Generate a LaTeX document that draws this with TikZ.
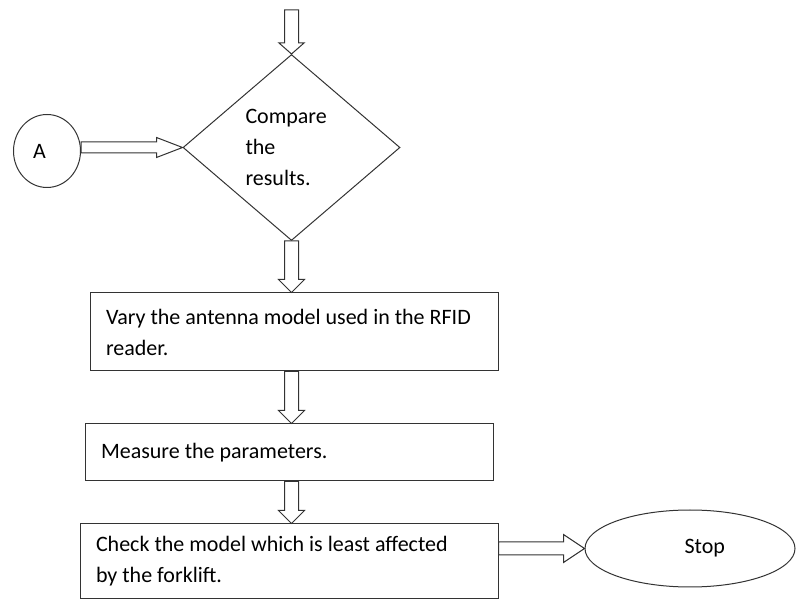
\documentclass[tikz,border=0pt]{standalone}
\usepackage{fontspec}
\setmainfont{Carlito}
\usetikzlibrary{calc, shapes.geometric}
\tikzset{arrsw/.store in=\arrsw, arrhw/.store in=\arrhw, arrhl/.store in=\arrhl, arrsw=7pt, arrhw=13pt, arrhl=13pt}
\tikzset{blockarr/.style={draw=black!80, line width=1pt, fill=white, to path={
	let \p1=(\tikztostart), \p2=(\tikztotarget), \n1={atan2(\y2-\y1,\x2-\x1)} in
	($(\p1)+(\n1+90:\arrsw)$)
	-- ($(\p2)+(\n1+180:\arrhl)+(\n1+90:\arrsw)$)
	-- ($(\p2)+(\n1+180:\arrhl)+(\n1+90:\arrhw)$)
	-- (\p2)
	-- ($(\p2)+(\n1+180:\arrhl)+(\n1-90:\arrhw)$)
	-- ($(\p2)+(\n1+180:\arrhl)+(\n1-90:\arrsw)$)
	-- ($(\p1)+(\n1-90:\arrsw)$) -- cycle \tikztonodes}}}
\tikzset{flowtext/.style={font=\fontsize{22pt}{31pt}\selectfont}}
\tikzset{stepbox/.style={flowtext, rectangle, draw=black!80, line width=1pt, inner xsep=16pt, align=flush left}}
\tikzset{decision/.style={flowtext, diamond, draw=black!80, line width=1pt, inner sep=0pt, minimum width=217pt, minimum height=186pt, text width=92pt, align=flush left}}
\tikzset{endcap/.style={flowtext, ellipse, draw=black!80, line width=1pt}}

\begin{document}
\begin{tikzpicture}[x=1pt, y=-1pt]
	\useasboundingbox (0,0) rectangle (796,601);
	\node[decision] (d) at (291.5,147.5) {Compare\\the\\results.};
	\node[endcap, minimum width=67pt, minimum height=73pt, text width=28pt, align=flush left] (a) at (47,151) {A};
	\node[stepbox, minimum width=408pt, minimum height=78pt, text width=376pt] (vary) at (294,332)
		{Vary the antenna model used in the RFID\\reader.};
	\node[stepbox, minimum width=408pt, minimum height=57pt, text width=376pt] (meas) at (289,452.5)
		{Measure the parameters.};
	\node[stepbox, minimum width=418pt, minimum height=75pt, text width=386pt] (check) at (289,561.5)
		{Check the model which is least affected\\by the forklift.};
	\node[endcap, minimum width=210pt, minimum height=77pt, text width=70pt, align=flush right] (stop) at (690,548.5) {Stop};
	\coordinate (in) at (291.5,10);

	\draw[blockarr, arrhw=12.5pt, arrhl=11pt] (in) to (d.north);
	\draw[blockarr, arrsw=5.5pt, arrhw=10pt, arrhl=26pt] (d.west -| a.east) to (d.west);
	\draw[blockarr] (d.south) to (d.south |- vary.north);
	\draw[blockarr] (d.south |- vary.south) to (d.south |- meas.north);
	\draw[blockarr] (d.south |- meas.south) to (d.south |- check.north);
	\draw[blockarr, arrsw=6.5pt, arrhw=14pt, arrhl=21pt] (stop.west -| check.east) to (stop.west);
\end{tikzpicture}
\end{document}
